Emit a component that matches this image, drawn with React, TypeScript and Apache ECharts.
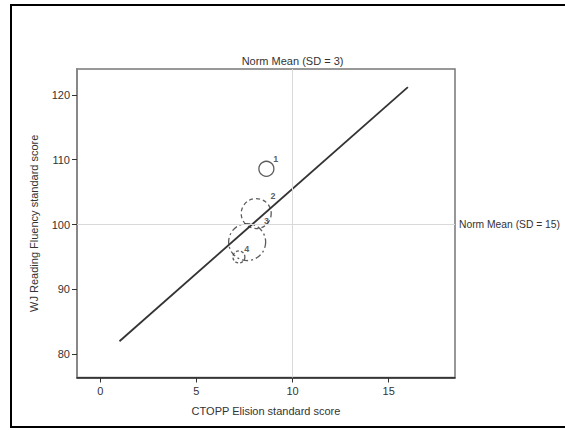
import React, { useEffect, useRef } from "react";
import * as echarts from "echarts";

// ---- data ----
const xTicks = [0, 5, 10, 15];
const yTicks = [80, 90, 100, 110, 120];
const fitX = [1, 16];
const fitY = [82.0, 121.2];
const bubbleX = [8.64, 8.11, 7.64, 7.21];
const bubbleY = [108.6, 101.7, 97.3, 95.0];
const bubbleWeight = [15, 30, 37, 12];
const bubbleLabels = ["1", "2", "3", "4"];
const normMeanX = 10;
const normMeanY = 100;

// ---- styles ----
const bubbleBorder = ["solid", [4, 3], [6, 3, 2, 3], [3, 2]];
const labelOffsets = [
  [15, -6],
  [30, -6],
  [36, -6],
  [12, -6],
];

const FONT = "Liberation Sans, Arial, sans-serif";
const TXT = "#333";

export default function App() {
  const ref = useRef<HTMLDivElement>(null);
  useEffect(() => {
    if (!ref.current) return;
    const chart = echarts.init(ref.current, null, { renderer: "svg" });
    const bubbles = bubbleX.map((x, i) => ({
      value: [x, bubbleY[i]],
      symbolSize: bubbleWeight[i],
      itemStyle: {
        color: "rgba(0,0,0,0)",
        borderColor: "#333",
        borderWidth: 1.3,
        borderType: bubbleBorder[i] as any,
      },
      label: {
        show: true,
        formatter: bubbleLabels[i],
        position: labelOffsets[i],
        fontSize: 9,
        fontWeight: "bold",
        color: "#333",
        fontFamily: FONT,
      },
    }));
    chart.setOption({
      animation: false,
      backgroundColor: "#fff",
      textStyle: { fontFamily: FONT },
      graphic: [
        {
          type: "rect",
          shape: { x: 11, y: 5, width: 560, height: 422 },
          style: { fill: "none", stroke: "#000", lineWidth: 2 },
          silent: true,
        },
      ],
      grid: {
        left: 77,
        right: 110,
        top: 69,
        bottom: 52.5,
        show: true,
        borderColor: "#777",
        borderWidth: 1.5,
        backgroundColor: "transparent",
      },
      xAxis: {
        type: "value",
        min: -1.21,
        max: 18.45,
        name: "CTOPP Elision standard score",
        nameLocation: "middle",
        nameGap: 28,
        nameTextStyle: { fontSize: 11, color: TXT, fontFamily: FONT },
        axisLine: { show: true, onZero: false, lineStyle: { color: "#222", width: 1.5 } },
        axisTick: {
          show: true,
          length: 5,
          customValues: xTicks,
          lineStyle: { color: "#333" },
        },
        axisLabel: {
          customValues: xTicks,
          fontSize: 11,
          color: TXT,
          margin: 8,
          fontFamily: FONT,
        },
        splitLine: { show: false },
      },
      yAxis: {
        type: "value",
        min: 76.4,
        max: 124.0,
        name: "WJ Reading Fluency standard score",
        nameLocation: "middle",
        nameGap: 38,
        nameTextStyle: { fontSize: 11, color: TXT, fontFamily: FONT },
        axisLine: { show: true, onZero: false, lineStyle: { color: "#888", width: 2 } },
        axisTick: {
          show: true,
          length: 5,
          customValues: yTicks,
          lineStyle: { color: "#333" },
        },
        axisLabel: {
          customValues: yTicks,
          fontSize: 11,
          color: TXT,
          margin: 7,
          fontFamily: FONT,
        },
        splitLine: { show: false },
      },
      series: [
        {
          type: "line",
          data: [],
          silent: true,
          markLine: {
            silent: true,
            symbol: "none",
            lineStyle: { color: "#d9d9d9", width: 1, type: "solid" },
            data: [
              {
                xAxis: normMeanX,
                label: {
                  show: true,
                  position: "end",
                  formatter: "Norm Mean (SD = 3)",
                  fontSize: 11,
                  color: TXT,
                  fontFamily: FONT,
                  distance: 3,
                },
              },
              {
                yAxis: normMeanY,
                label: {
                  show: true,
                  position: "end",
                  formatter: "Norm Mean (SD = 15)",
                  fontSize: 10.3,
                  color: TXT,
                  fontFamily: FONT,
                  distance: 4,
                },
              },
            ],
          },
        },
        {
          type: "line",
          data: fitX.map((x, i) => [x, fitY[i]]),
          showSymbol: false,
          symbol: "none",
          lineStyle: { color: "#333", width: 1.8 },
          silent: true,
        },
        {
          type: "scatter",
          data: bubbles,
          silent: true,
        },
      ],
    });
    return () => chart.dispose();
  }, []);
  return (
    <div
      ref={ref}
      style={{ position: "absolute", left: 0, top: 0, width: 565, height: 430 }}
    />
  );
}
